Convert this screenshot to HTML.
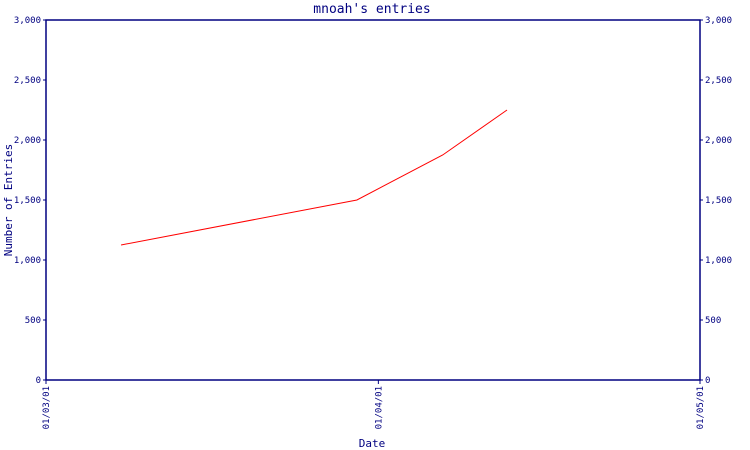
<!DOCTYPE html>
<html><head><meta charset="utf-8"><style>
body{margin:0;background:#fff}
svg{display:block;font-family:"DejaVu Sans Mono","Liberation Mono",monospace;fill:#000080}
</style></head><body>
<svg width="750" height="450">
<text x="372" y="13" text-anchor="middle" font-size="13">mnoah's entries</text>
<text x="372" y="447" text-anchor="middle" font-size="11">Date</text>
<text transform="translate(12,200) rotate(-90)" text-anchor="middle" font-size="11">Number of Entries</text>
<g id="plot"></g>
</svg>
<script>
const xTickLabels=["01/03/01","01/04/01","01/05/01"];
const xTickDays=[0,31,61];
const yTicks=[0,500,1000,1500,2000,2500,3000];
const pointDays=[7,29,37,43];
const entryCounts=[1125,1500,1875,2250];
const L=46,R=700,T=20,B=380,NS="http://www.w3.org/2000/svg";
const xs=d=>L+(d-0)/(61-0)*(R-L);
const ys=v=>B-v/3000*(B-T);
const g=document.getElementById('plot');
function mk(t,a){const e=document.createElementNS(NS,t);for(const k in a)e.setAttribute(k,a[k]);g.appendChild(e);return e;}
const frame=mk('path',{d:`M${L},${T}H${R}V${B}H${L}Z`,fill:'none',stroke:'#000080','stroke-width':1.5});


yTicks.forEach(v=>{const y=ys(v);
 const lab=v.toLocaleString('en-US');
 const a=mk('text',{x:L-5,y:y+3,'text-anchor':'end','font-size':9});a.textContent=lab;
 
 
 const b=mk('text',{x:R+5,y:y+3,'font-size':9});b.textContent=lab;
 
 
 mk('line',{x1:L-3,x2:L,y1:y,y2:y,stroke:'#000080'});
 mk('line',{x1:R,x2:R+3,y1:y,y2:y,stroke:'#000080'});
});
xTickDays.forEach((d,i)=>{const x=xs(d);
 mk('line',{x1:x,x2:x,y1:B,y2:B+4,stroke:'#000080'});
 const t=mk('text',{transform:`translate(${x+3},${B+6}) rotate(-90)`,'text-anchor':'end','font-size':9});t.textContent=xTickLabels[i];
 
 
});
const line=mk('polyline',{points:pointDays.map((d,i)=>xs(d)+','+ys(entryCounts[i])).join(' '),fill:'none',stroke:'#ff0000','stroke-width':1});


</script>
</body></html>
